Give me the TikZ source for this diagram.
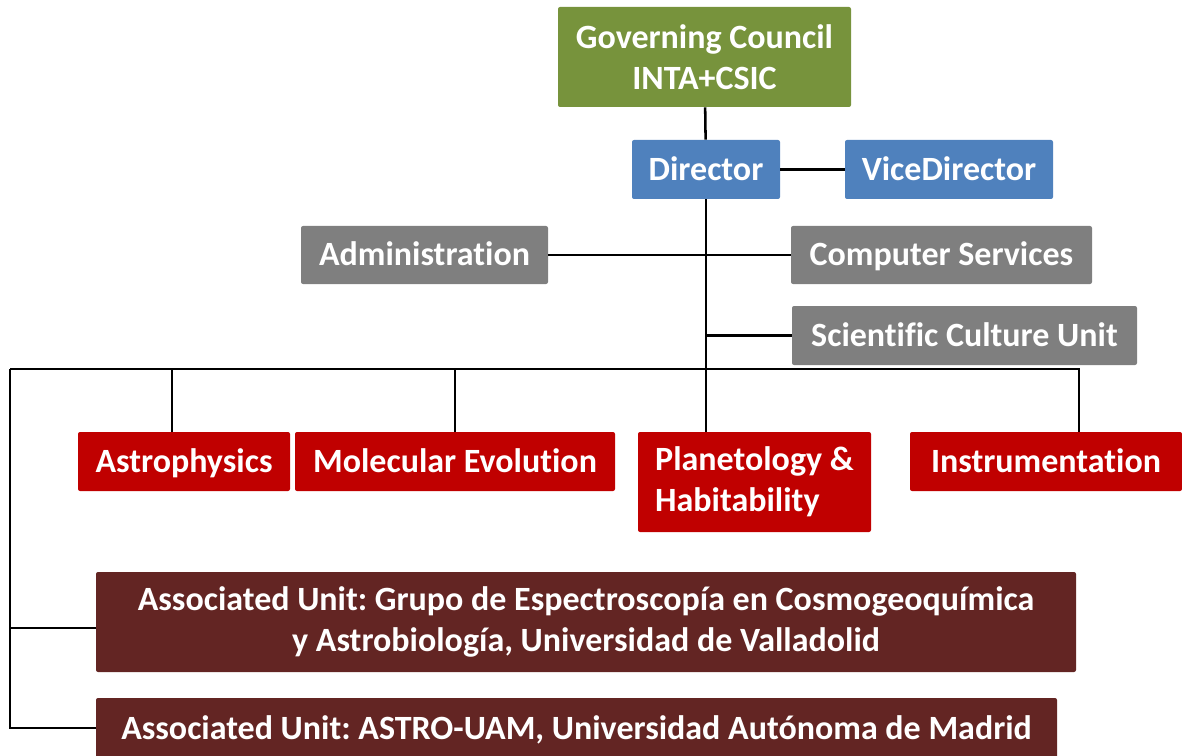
\documentclass[tikz,border=0pt]{standalone}
\usepackage{fontspec}
\setmainfont{Carlito}[Ligatures=CommonOff]
\frenchspacing
\usepackage{tikz}
\usetikzlibrary{positioning,calc}
\definecolor{councilgreen}{HTML}{77933C}
\definecolor{dirblue}{HTML}{4F81BD}
\definecolor{servgrey}{HTML}{7F7F7F}
\definecolor{deptred}{HTML}{C00000}
\definecolor{assocbrown}{HTML}{632523}
\tikzset{
unit/.style = {rectangle, rounded corners=1.5pt, text=white, inner sep=0pt,
  font=\fontsize{25.5}{30.5}\selectfont\bfseries, align=center},
oneline/.style = {text height=22pt, text depth=5.5pt},
council/.style = {unit, fill=councilgreen},
head/.style = {unit, oneline, fill=dirblue},
service/.style = {unit, oneline, fill=servgrey},
dept/.style = {unit, fill=deptred},
assoc/.style = {unit, fill=assocbrown},
link/.style = {draw, line width=1.9pt, black}
}

\begin{document}
\begin{tikzpicture}[x=0.75pt, y=-0.75pt]
  \useasboundingbox (0,0) rectangle (1182,756);
  % top of the chart
  \node [council, minimum width=219.75pt, minimum height=75pt]   (council) at (704.5,57)  {Governing Council\\INTA+CSIC};
  \node [head, minimum width=111pt, minimum height=44.25pt]      (dir)     at (706,169.5) {Director};
  \node [head, minimum width=156pt, minimum height=44.25pt]      (vice)    at (949,169.5) {ViceDirector};
  % services
  \node [service, minimum width=185.25pt, minimum height=43.5pt] (admin)   at (424.5,255) {Administration};
  \node [service, minimum width=225.75pt, minimum height=43.5pt] (comp)    at (941.5,255) {Computer Services};
  \node [service, minimum width=258.75pt, minimum height=44.25pt](scu)     at (964.5,335.5) {Scientific Culture Unit};
  % departments
  \node [dept, oneline, minimum width=159pt, minimum height=44.25pt] (astro) at (184,461.5) {Astrophysics};
  \node [dept, oneline, minimum width=240pt, minimum height=44.25pt] (molev) at (455,461.5) {Molecular Evolution};
  \node [dept, minimum width=174.75pt, minimum height=75pt, inner xsep=12pt, align=left] (planet) at (754.5,482) {Planetology \&\\Habitability};
  \node [dept, oneline, minimum width=204pt, minimum height=44.25pt] (instr) at (1046,461.5) {Instrumentation};
  % associated units
  \node [assoc, minimum width=735pt, minimum height=75pt]        (au1)     at (586,622) {Associated Unit: Grupo de Espectroscopía en Cosmogeoquímica\\y Astrobiología, Universidad de Valladolid};
  \node [assoc, oneline, minimum width=720.75pt, minimum height=45pt] (au2) at (576.5,728) {Associated Unit: ASTRO-UAM, Universidad Autónoma de Madrid};

  \coordinate (busL) at (10,369);

  \draw [link] (council) -- (dir);
  \draw [link] (dir) -- (vice);
  \draw [link] (admin) -- (comp);
  \draw [link] (dir.south) -- (dir.south |- planet.north);
  \draw [link] (dir.south |- scu.west) -- (scu.west);
  \draw [link] (busL) -| ([xshift=24.75pt]instr.north);
  \draw [link] ([xshift=-9pt]astro.north) -- ([xshift=-9pt]astro.north |- busL);
  \draw [link] (molev.north) -- (molev.north |- busL);
  \draw [link] (busL) |- (au2.west);
  \draw [link] (busL |- au1.west) ++(0,6) coordinate (au1in) -- (au1in -| au1.west);
\end{tikzpicture}
\end{document}
